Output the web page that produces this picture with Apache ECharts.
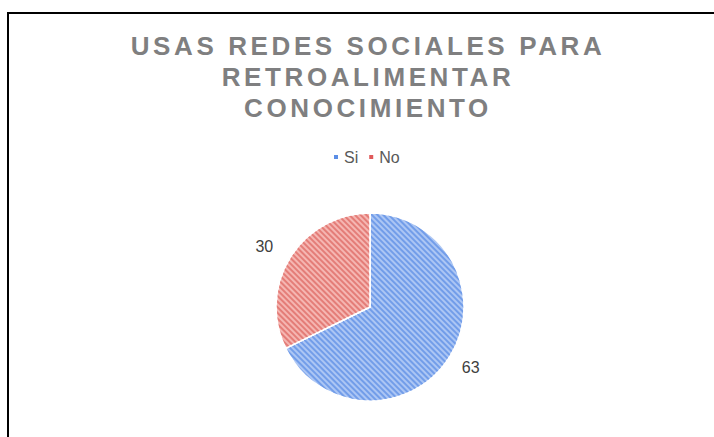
<!DOCTYPE html>
<html>
<head>
<meta charset="utf-8">
<script src="https://cdn.jsdelivr.net/npm/echarts@6/dist/echarts.min.js"></script>
<style>
  html, body { margin: 0; padding: 0; background: #fff; }
  #wrap { position: relative; width: 714px; height: 437px; overflow: hidden; background: #fff; }
  #frame { position: absolute; left: 7px; top: 12px; width: 800px; height: 500px; border-top: 2px solid #000; border-left: 2px solid #000; pointer-events: none; }
  #chart { position: absolute; left: 0; top: 0; width: 714px; height: 437px; }
  #chart text[fill="#7f7f80"], #chart text[style*="#7f7f80"] { letter-spacing: 3.6px; }
</style>
</head>
<body>
<div id="wrap">
  <div id="chart"></div>
  <div id="frame"></div>
</div>
<script>
const titleText = 'USAS REDES SOCIALES PARA\nRETROALIMENTAR\nCONOCIMIENTO';
const categories = ['Si', 'No'];
const values = [63, 30];
const baseColors = ['#acc6f4', '#f5b6b2'];
const stripeColors = ['#729de9', '#e47d78'];
const legendColors = ['#5b8ee6', '#e05a5a'];

const chart = echarts.init(document.getElementById('chart'), null, { renderer: 'svg' });
chart.setOption({
  backgroundColor: 'transparent',
  animation: false,
  title: {
    text: titleText,
    left: 363,
    textAlign: 'center',
    top: 25,
    textStyle: {
      fontFamily: 'Liberation Sans, Arial, sans-serif',
      fontSize: 26,
      fontWeight: 'bold',
      color: '#7f7f80',
      lineHeight: 31
    }
  },
  legend: {
    top: 144,
    left: 327,
    itemWidth: 6,
    itemHeight: 6,
    itemGap: 9,
    icon: 'rect',
    textStyle: { fontFamily: 'Liberation Sans, Arial, sans-serif', fontSize: 16, color: '#595959' },
    data: categories.map((c, i) => ({ name: c, itemStyle: { color: legendColors[i], decal: 'none' } }))
  },
  series: [{
    type: 'pie',
    center: [370, 307],
    radius: 94,
    startAngle: 90,
    clockwise: true,
    data: categories.map((c, i) => ({
      name: c,
      value: values[i],
      itemStyle: {
        color: baseColors[i],
        decal: {
          symbol: 'rect',
          symbolSize: 1,
          color: stripeColors[i],
          dashArrayX: [1, 0],
          dashArrayY: [2, 2],
          rotation: Math.PI / 4
        }
      }
    })),
    itemStyle: { borderColor: '#fff', borderWidth: 1.5 },
    label: {
      show: true,
      position: 'outside',
      formatter: '{c}',
      fontFamily: 'Liberation Sans, Arial, sans-serif',
      fontSize: 16,
      color: '#404040'
    },
    labelLine: { show: false, length: 20, length2: 0 },
    labelLayout: function (params) {
      return { dx: params.align === 'left' ? -10 : 5 };
    },
    emphasis: { disabled: true }
  }]
});
</script>
</body>
</html>
